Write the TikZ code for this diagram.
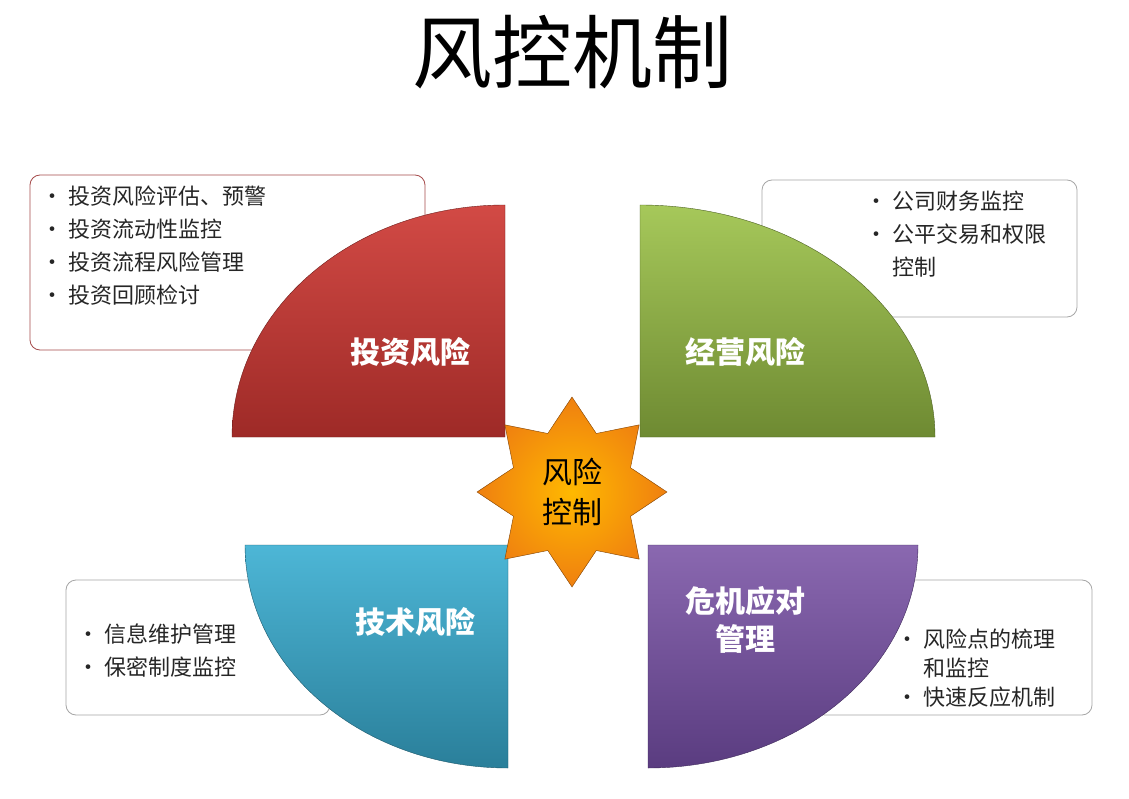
\documentclass[tikz,border=0pt]{standalone}
\usepackage{fontspec}
\newfontfamily\cjk{Noto Sans CJK SC}
\usetikzlibrary{shapes.geometric}
\definecolor{rtop}{HTML}{D24A45}\definecolor{rbot}{HTML}{9E2A27}
\definecolor{gtop}{HTML}{A6C85A}\definecolor{gbot}{HTML}{6E8A32}
\definecolor{btop}{HTML}{4DB6D6}\definecolor{bbot}{HTML}{2A7F9A}
\definecolor{ptop}{HTML}{8A68B0}\definecolor{pbot}{HTML}{5A3C80}
\tikzset{
 infobox/.style={draw=#1, line width=0.8pt, rounded corners=10pt, fill=white},
 bul/.style={anchor=north west, align=left, font=\cjk\fontsize{22}{33}\selectfont, text=black!85},
 lab/.style={font=\cjk\bfseries\fontsize{30}{38}\selectfont, text=white, align=center},
}
\begin{document}
\begin{tikzpicture}[x=1pt,y=-1pt]
\useasboundingbox (0,0) rectangle (1129,799);
\fill[white] (0,0) rectangle (1129,799);
\node (title) at (572,52) {\cjk\fontsize{80}{90}\selectfont 风控机制};
% boxes
\draw[infobox=red!50!black!70] (30,175) rectangle (425,350);
\draw[infobox=black!35] (762,180) rectangle (1077,317);
\draw[infobox=black!35] (66,580) rectangle (330,715);
\draw[infobox=black!35] (815,580) rectangle (1092,715);
\node[bul] (t1) at (38,182) {• 投资风险评估、预警\\• 投资流动性监控\\• 投资流程风险管理\\• 投资回顾检讨};
\node[bul] (t2) at (862,187) {• 公司财务监控\\• 公平交易和权限\\\phantom{• }控制};
\node[bul] (t3) at (74,620) {• 信息维护管理\\• 保密制度监控};
\node[bul, font=\cjk\fontsize{22}{29}\selectfont] (t4) at (893,625) {• 风险点的梳理\\\phantom{• }和监控\\• 快速反应机制};
% quarters
\shade[top color=rtop, bottom color=rbot, draw=rbot!70!black] (505,437) -- (232,437) arc[start angle=180, end angle=90, x radius=273, y radius=-232] -- cycle;
\shade[top color=gtop, bottom color=gbot, draw=gbot!70!black] (640,437) -- (640,205) arc[start angle=90, end angle=0, x radius=295, y radius=-232] -- cycle;
\shade[top color=btop, bottom color=bbot, draw=bbot!70!black] (508,545) -- (245,545) arc[start angle=180, end angle=270, x radius=263, y radius=-223] -- cycle;
\shade[top color=ptop, bottom color=pbot, draw=pbot!70!black] (648,545) -- (918,545) arc[start angle=0, end angle=-90, x radius=270, y radius=-223] -- cycle;
\node[lab] (l1) at (410,352) {投资风险};
\node[lab] (l2) at (745,352) {经营风险};
\node[lab] (l3) at (415,622) {技术风险};
\node[lab] (l4) at (745,620) {危机应对\\管理};
% star
\node[star, star points=8, star point ratio=1.5, minimum size=190pt, inner sep=0pt,
  shading=radial, inner color=orange!55!yellow, outer color=orange!75!brown, draw=orange!50!black] (star) at (572,492) {};
\node[align=center, font=\cjk\fontsize{30}{40}\selectfont] (st) at (572,492) {风险\\控制};
\end{tikzpicture}
\end{document}
